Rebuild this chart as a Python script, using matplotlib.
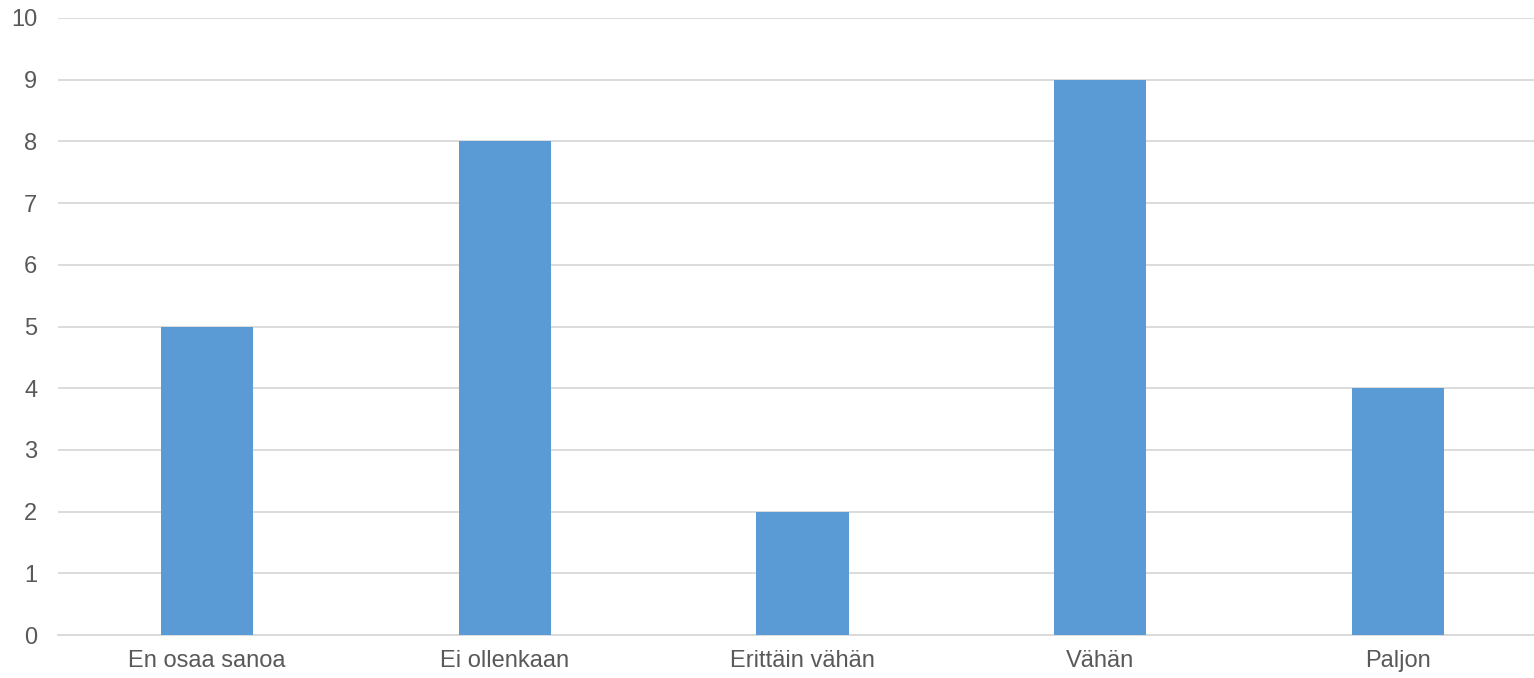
import numpy as np
import matplotlib.pyplot as plt

plt.rcParams['font.family'] = ['Liberation Sans', 'DejaVu Sans']

# Data
categories = ['En osaa sanoa', 'Ei ollenkaan', 'Erittäin vähän', 'Vähän', 'Paljon']
values = [5, 8, 2, 9, 4]

fig = plt.figure(figsize=(15.34, 6.78), dpi=100)
ax = fig.add_axes([58 / 1534, 1 - 635 / 678, 1489 / 1534, (635 - 18) / 678])

x = np.arange(len(categories))
ax.bar(x, values, width=0.31, color='#5B9BD5', zorder=3)

ax.set_xlim(-0.5, len(categories) - 0.5)
ax.set_ylim(0, 10)
ax.set_yticks(range(0, 11))
ax.set_xticks(x)
ax.set_xticklabels(categories)

ax.grid(axis='y', color='#D9D9D9', linewidth=1.3, zorder=0)
for s in ['top', 'right', 'left']:
    ax.spines[s].set_visible(False)
ax.spines['bottom'].set_color('#D9D9D9')
ax.spines['bottom'].set_linewidth(1.3)

ax.tick_params(axis='both', length=0, labelsize=17, labelcolor='#595959')
ax.tick_params(axis='y', pad=15)
ax.tick_params(axis='x', pad=11)

fig.savefig('out.png', dpi=100)
